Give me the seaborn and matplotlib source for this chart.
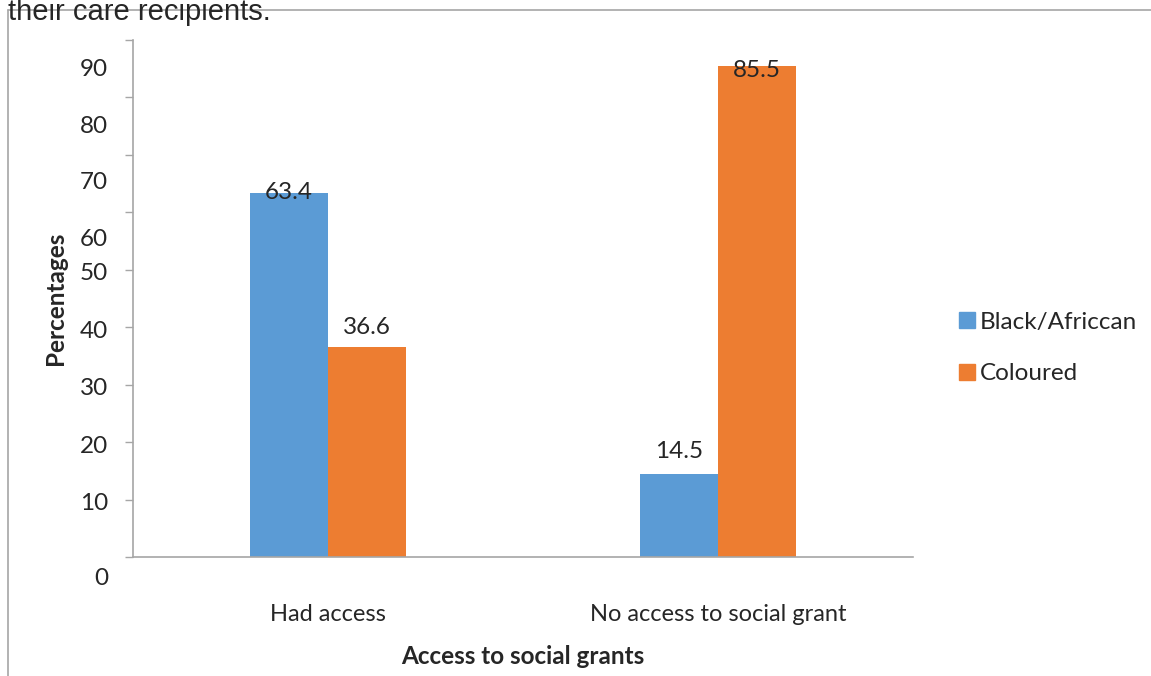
import pandas as pd
import matplotlib
matplotlib.use("Agg")
import matplotlib.pyplot as plt
from matplotlib.lines import Line2D
import seaborn as sns

# chart data
categories = ["Had access", "No access to social grant"]
groups = ["Black/Africcan", "Coloured"]
black_values = [63.4, 14.5]
coloured_values = [36.6, 85.5]
colors = ["#5B9BD5", "#ED7D31"]

# y tick labels (drawn slightly off their ticks, as in the original)
ytick_values = list(range(0, 100, 10))
ytick_label_pos = [-3.7, 9.4, 19.3, 29.3, 39.2, 49.3, 55.2, 65.2, 74.9, 84.8]

# vertical offset (points) of each value label from its bar top, per group
label_offsets = [[0, 16], [14, -3]]

df = pd.DataFrame({
    "Access": categories * 2,
    "Group": [groups[0]] * 2 + [groups[1]] * 2,
    "Value": black_values + coloured_values,
})

sns.set_style("white")
plt.rcParams["font.family"] = ["Lato", "DejaVu Sans"]
grey = "#a6a6a6"

fig = plt.figure(figsize=(11.51, 6.76), dpi=100)
ax = fig.add_axes([133 / 1151, 1 - 557 / 676, 780 / 1151, 517 / 676])

sns.barplot(data=df, x="Access", y="Value", hue="Group", palette=colors,
            width=0.4, gap=0, saturation=1, linewidth=0, ax=ax, legend=False)

ax.set_ylim(0, 90)
ax.set_xlim(-0.5, 1.5)
ax.set_yticks(ytick_values)
ax.set_yticklabels([])
ax.tick_params(axis="y", length=6, width=1, color=grey, direction="out", left=True)
ax.tick_params(axis="x", length=0, pad=34, labelsize=17)
for lab, pos in zip(ytick_values, ytick_label_pos):
    ax.text(-0.032, pos, str(lab), transform=ax.get_yaxis_transform(),
            ha="right", va="center", fontsize=17.5, clip_on=False)

sns.despine(ax=ax, top=True, right=True)
for side in ["left", "bottom"]:
    ax.spines[side].set_color(grey)
    ax.spines[side].set_linewidth(1.2)

ax.set_xlabel("Access to social grants", fontsize=17.5, fontweight="bold", labelpad=14)
ax.set_ylabel("Percentages", fontsize=17.5, fontweight="bold", labelpad=38)

# value labels
for container, offsets in zip(ax.containers, label_offsets):
    for bar, off in zip(container, offsets):
        h = bar.get_height()
        ax.annotate(f"{h:.1f}", (bar.get_x() + bar.get_width() / 2, h),
                    xytext=(0, off), textcoords="offset points",
                    ha="center", va="center", fontsize=17.5)

handles = [plt.Rectangle((0, 0), 1, 1, color=c) for c in colors]
fig.legend(handles, groups, loc="center left", bbox_to_anchor=(937 / 1151, 1 - 348 / 676),
           frameon=False, fontsize=17.5, handlelength=0.65, handleheight=0.65,
           handletextpad=0.2, labelspacing=1.25)

# page frame and caption fragment from the source document
fig.add_artist(Line2D([8 / 1151, 1], [1 - 10 / 676] * 2, color=grey, lw=1.2,
                      transform=fig.transFigure))
fig.add_artist(Line2D([8 / 1151] * 2, [0, 1 - 10 / 676], color=grey, lw=1.2,
                      transform=fig.transFigure))
fig.text(8 / 1151, 1 - 20 / 676, "their care recipients.", family="Liberation Sans",
         fontsize=21, va="baseline", ha="left")

fig.savefig("out.png", dpi=100)
